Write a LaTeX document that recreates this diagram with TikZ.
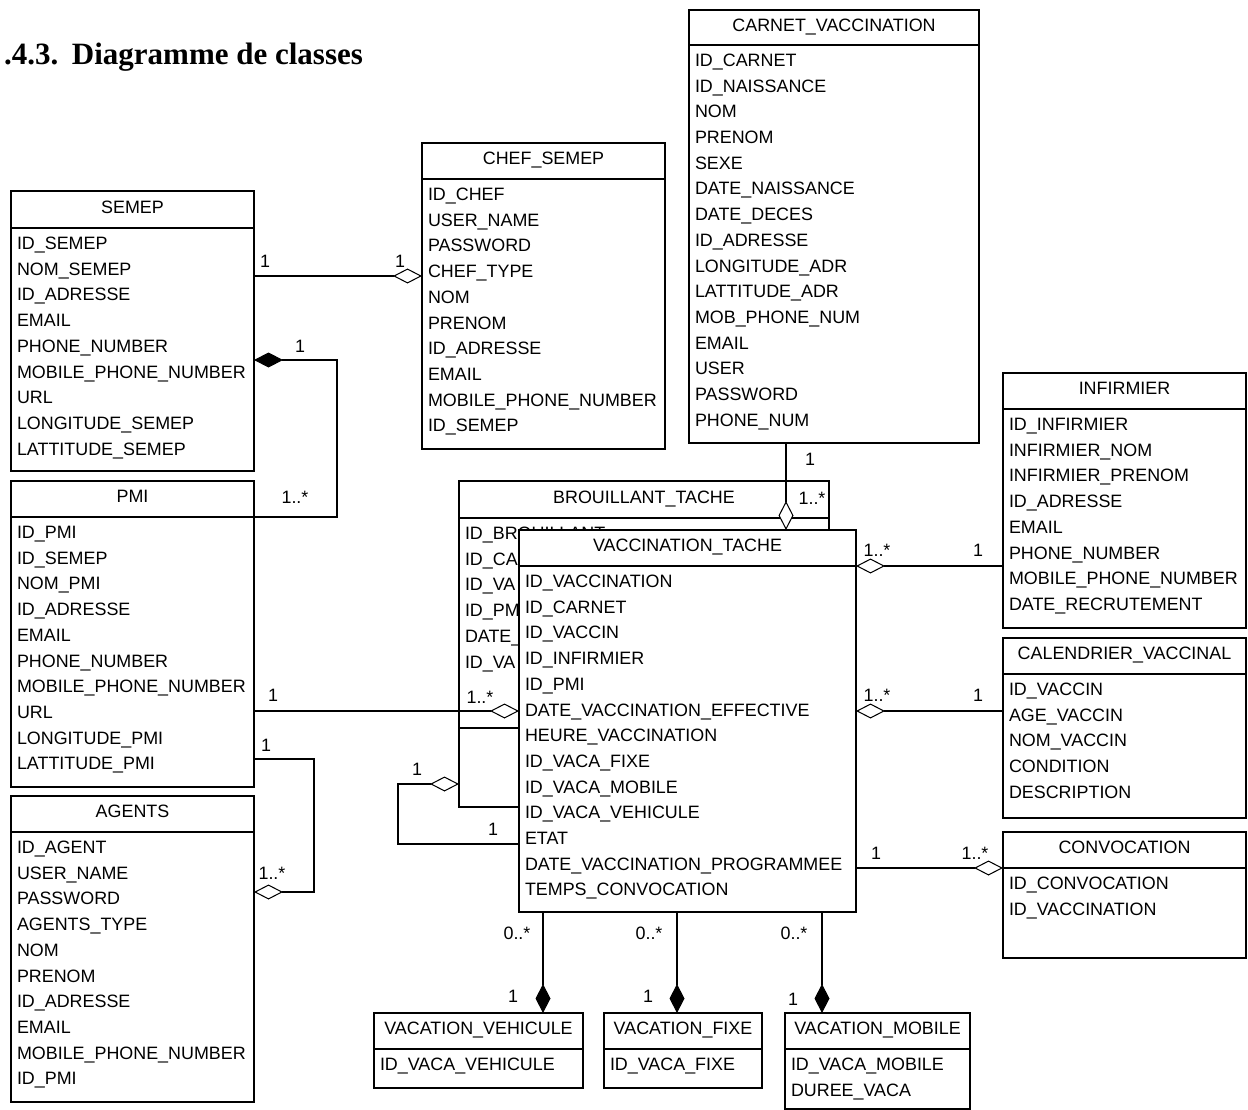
\documentclass[tikz,border=0pt]{standalone}
\usepackage{fontspec}
\setmainfont{Liberation Sans}
\newfontfamily\titleserif{Liberation Serif}
\usetikzlibrary{arrows.meta}
\tikzset{
  clsbox/.style={draw=black, line width=1.05pt, fill=white, inner sep=0pt, outer sep=0pt},
  clsline/.style={draw=black, line width=1.05pt},
  txt/.style={inner sep=0pt, outer sep=0pt, font=\fontsize{17.9}{21}\selectfont},
  conn/.style={draw=black, line width=1.05pt},
  odia/.style={-{Diamond[fill=white,length=29pt,width=15pt]}},
  fdia/.style={-{Diamond[length=29pt,width=15pt]}},
  lbl/.style={txt, anchor=base},
}
% #1 name, #2 x, #3 y, #4 w, #5 h, #6 header h, #7 title, #8 attributes
\newcommand\umlclass[8]{%
  \node[clsbox, minimum width=#4pt, minimum height=#5pt, anchor=north west] (#1) at (#2,#3) {};
  \draw[clsline] (#2,{#3+#6}) -- ({#2+#4},{#3+#6});
  \node[txt, anchor=base] (#1-title) at ({#2+#4/2},{#3+#6/2+3.6}) {#7};
  \foreach \a [count=\i] in {#8} {\node[txt, anchor=base west] (#1-a\i) at ({#2+6},{#3+#6+15+6.5+(\i-1)*25.7}) {\a};}
}
\begin{document}
\begin{tikzpicture}[x=1pt,y=-1pt]
\useasboundingbox (0,0) rectangle (1248,1110);

\node[inner sep=0pt, anchor=base west, font=\titleserif\bfseries\fontsize{31}{36}\selectfont] (heading) at (4,65) {.4.3.\hspace{13.5pt}Diagramme de classes};

\umlclass{semep}{11}{191}{243}{280}{37}{SEMEP}{ID\_SEMEP,NOM\_SEMEP,ID\_ADRESSE,EMAIL,PHONE\_NUMBER,MOBILE\_PHONE\_NUMBER,URL,LONGITUDE\_SEMEP,LATTITUDE\_SEMEP}
\umlclass{pmi}{11}{481}{243}{306}{36}{PMI}{ID\_PMI,ID\_SEMEP,NOM\_PMI,ID\_ADRESSE,EMAIL,PHONE\_NUMBER,MOBILE\_PHONE\_NUMBER,URL,LONGITUDE\_PMI,LATTITUDE\_PMI}
\umlclass{agents}{11}{796}{243}{306}{36}{AGENTS}{ID\_AGENT,USER\_NAME,PASSWORD,AGENTS\_TYPE,NOM,PRENOM,ID\_ADRESSE,EMAIL,MOBILE\_PHONE\_NUMBER,ID\_PMI}
\umlclass{chef}{422}{143}{243}{306}{36}{CHEF\_SEMEP}{ID\_CHEF,USER\_NAME,PASSWORD,CHEF\_TYPE,NOM,PRENOM,ID\_ADRESSE,EMAIL,MOBILE\_PHONE\_NUMBER,ID\_SEMEP}
\umlclass{carnet}{689}{10}{290}{433}{35}{CARNET\_VACCINATION}{ID\_CARNET,ID\_NAISSANCE,NOM,PRENOM,SEXE,DATE\_NAISSANCE,DATE\_DECES,ID\_ADRESSE,LONGITUDE\_ADR,LATTITUDE\_ADR,MOB\_PHONE\_NUM,EMAIL,USER,PASSWORD,PHONE\_NUM}
\umlclass{infirmier}{1003}{373}{243}{255}{36}{INFIRMIER}{ID\_INFIRMIER,INFIRMIER\_NOM,INFIRMIER\_PRENOM,ID\_ADRESSE,EMAIL,PHONE\_NUMBER,MOBILE\_PHONE\_NUMBER,DATE\_RECRUTEMENT}
\umlclass{calendrier}{1003}{638}{243}{180}{36}{CALENDRIER\_VACCINAL}{ID\_VACCIN,AGE\_VACCIN,NOM\_VACCIN,CONDITION,DESCRIPTION}
\umlclass{convocation}{1003}{832}{243}{126}{36}{CONVOCATION}{ID\_CONVOCATION,ID\_VACCINATION}
\umlclass{vv}{374}{1013}{209}{75}{36}{VACATION\_VEHICULE}{ID\_VACA\_VEHICULE}
\umlclass{vf}{604}{1013}{158}{75}{36}{VACATION\_FIXE}{ID\_VACA\_FIXE}
\umlclass{vm}{785}{1013}{185}{96}{36}{VACATION\_MOBILE}{ID\_VACA\_MOBILE,DUREE\_VACA}

% BROUILLANT_TACHE (partly hidden behind VACCINATION_TACHE)
\umlclass{brouillant}{459}{481}{370}{326}{37}{BROUILLANT\_TACHE}{ID\_BROUILLANT,ID\_CA,ID\_VA,ID\_PM,DATE\_,ID\_VA}
\draw[clsline] (459,728) -- (829,728);

% connectors passing over BROUILLANT_TACHE
\draw[conn, odia] (carnet.south -| 786,0) -- (786,530);
\draw[conn, odia] (pmi.east |- 0,711) -- (519,711);
\draw[conn, odia] (519,844) -- (398,844) -- (398,784) -- (brouillant.west |- 0,784);

\umlclass{vt}{519}{530}{337}{382}{36}{VACCINATION\_TACHE}{ID\_VACCINATION,ID\_CARNET,ID\_VACCIN,ID\_INFIRMIER,ID\_PMI,DATE\_VACCINATION\_EFFECTIVE,HEURE\_VACCINATION,ID\_VACA\_FIXE,ID\_VACA\_MOBILE,ID\_VACA\_VEHICULE,ETAT,DATE\_VACCINATION\_PROGRAMMEE,TEMPS\_CONVOCATION}

% other connectors
\draw[conn, odia] (semep.east |- 0,276) -- (chef.west |- 0,276);
\draw[conn, fdia] (pmi.east |- 0,517) -- (337,517) -- (337,360) -- (semep.east |- 0,360);
\draw[conn, odia] (pmi.east |- 0,759) -- (314,759) -- (314,892) -- (agents.east |- 0,892);
\draw[conn, odia] (infirmier.west |- 0,566) -- (vt.east |- 0,566);
\draw[conn, odia] (calendrier.west |- 0,711) -- (vt.east |- 0,711);
\draw[conn, odia] (vt.east |- 0,868) -- (convocation.west |- 0,868);
\draw[conn, fdia] (vt.south -| 543,0) -- (vv.north -| 543,0);
\draw[conn, fdia] (vt.south -| 677,0) -- (vf.north -| 677,0);
\draw[conn, fdia] (vt.south -| 822,0) -- (vm.north -| 822,0);

% multiplicities
\node[lbl] (m1a) at (265,268) {1};
\node[lbl] (m1b) at (400,268) {1};
\node[lbl] (m2a) at (300,352) {1};
\node[lbl] (m2b) at (295,503) {1..*};
\node[lbl] (m3a) at (273,701) {1};
\node[lbl] (m3b) at (480,703) {1..*};
\node[lbl] (m4a) at (266,751) {1};
\node[lbl] (m4b) at (272,879) {1..*};
\node[lbl] (m5a) at (417,775) {1};
\node[lbl] (m5b) at (493,835) {1};
\node[lbl] (m6a) at (810,465) {1};
\node[lbl] (m6b) at (812,504) {1..*};
\node[lbl] (m7a) at (877,556) {1..*};
\node[lbl] (m7b) at (978,556) {1};
\node[lbl] (m8a) at (877,701) {1..*};
\node[lbl] (m8b) at (978,701) {1};
\node[lbl] (m9a) at (876,859) {1};
\node[lbl] (m9b) at (975,859) {1..*};
\node[lbl] (m10a) at (517,939) {0..*};
\node[lbl] (m10b) at (513,1002) {1};
\node[lbl] (m11a) at (649,939) {0..*};
\node[lbl] (m11b) at (648,1002) {1};
\node[lbl] (m12a) at (794,939) {0..*};
\node[lbl] (m12b) at (793,1005) {1};
\end{tikzpicture}
\end{document}
